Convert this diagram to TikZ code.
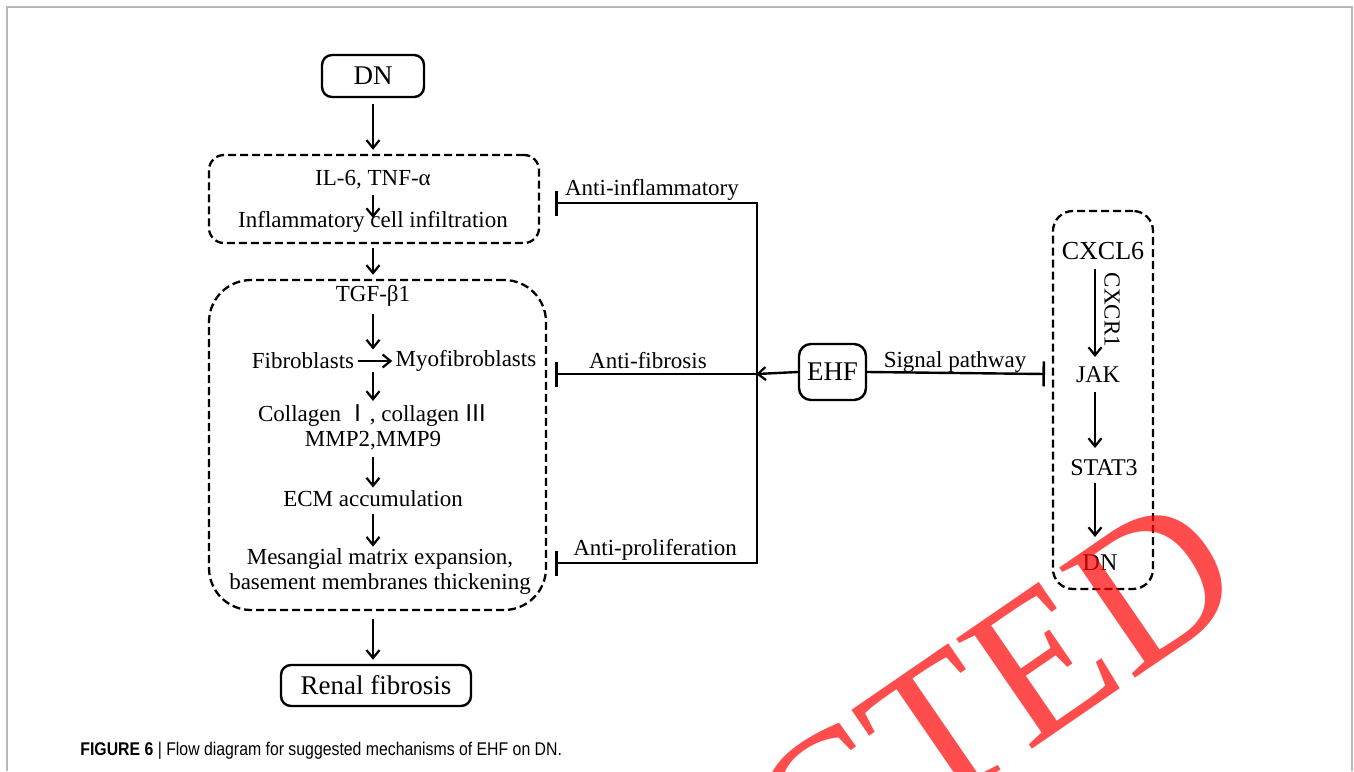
\documentclass[tikz,border=0pt]{standalone}
\usepackage{fontspec}
\setmainfont{Liberation Serif}
\newfontfamily\capfont{Liberation Sans}
\newfontfamily\cjkfont{Noto Sans CJK SC}
\usetikzlibrary{arrows.meta}
\tikzset{
  solidbox/.style={draw, line width=1.2pt, rounded corners=5pt, inner sep=0pt},
  dashbox/.style={draw, line width=1.15pt, dash pattern=on 4pt off 2pt, inner sep=0pt},
  lbl/.style={inner sep=0.5pt, font=\fontsize{11.5pt}{12.5pt}\selectfont},
  big/.style={inner sep=0.5pt, font=\fontsize{13.5pt}{15pt}\selectfont},
  rlbl/.style={inner sep=0.5pt, font=\fontsize{12pt}{14pt}\selectfont},
  arr/.style={line width=1.2pt, -{Straight Barb[length=4pt,width=6.5pt,line width=1.1pt]}},
  inhib/.style={line width=1.2pt, -{Bar[width=12.5pt,line width=1.3pt]}},
  plainline/.style={line width=1.2pt},
}
\begin{document}
\begin{tikzpicture}[x=0.5pt,y=-0.5pt]
\useasboundingbox (0,0) rectangle (1354,771);
% frame
\draw[gray!55, line width=0.7pt] (7,771) -- (7,7) -- (1352,7) -- (1352,771);

% boxes
\node[solidbox, minimum width=51pt, minimum height=21pt, big] (dn) at (373,76) {DN};
\node[dashbox, rounded corners=7.5pt, minimum width=165pt, minimum height=44pt] (box1) at (374,199) {};
\node[dashbox, rounded corners=21pt, minimum width=168.5pt, minimum height=165pt] (box2) at (377.5,445) {};
\node[solidbox, minimum width=95pt, minimum height=20.5pt, big] (renal) at (376,685.5) {Renal fibrosis};
\node[solidbox, rounded corners=6pt, minimum width=33.5pt, minimum height=28pt, big] (ehf) at (832.5,372) {EHF};
\node[dashbox, rounded corners=10pt, minimum width=50pt, minimum height=189pt] (box3) at (1103,400) {};

% box1 content
\node[lbl] (il6) at (373,180) {IL-6, TNF-α};
\node[lbl] (infl) at (373,222) {Inflammatory cell infiltration};
% box2 content
\node[lbl] (tgf) at (373,296) {TGF-β1};
\node[lbl] (fib) at (303,361) {Fibroblasts};
\node[lbl] (myo) at (466,361) {Myofibroblasts};
\node[lbl, align=center] (coll) at (373,427) {Collagen {\cjkfont Ⅰ}, collagen {\cjkfont Ⅲ}\\MMP2,MMP9};
\node[lbl] (ecm) at (373,499) {ECM accumulation};
\node[lbl, align=center] (mes) at (380,571) {Mesangial matrix expansion,\\basement membranes thickening};

% right box content
\node[rlbl, font=\fontsize{13pt}{14pt}\selectfont] (cxcl) at (1103,251) {CXCL6};
\node[rlbl] (jak) at (1098,375) {JAK};
\node[rlbl] (stat) at (1104,468) {STAT3};
\node[rlbl] (dn2) at (1100,563) {DN};

% main vertical flow
\draw[arr, shorten <=3pt, shorten >=2pt] (dn.south) -- (box1.north -| dn.south);
\draw[arr, shorten <=2pt, shorten >=-4pt] (il6.south) -- (infl.north);
\draw[arr, shorten <=2pt, shorten >=2pt] (box1.south -| dn.south) -- (box2.north -| dn.south);
\draw[arr, shorten <=3pt, shorten >=1pt] (tgf.south) -- (tgf.south |- fib.north);
\draw[arr, shorten <=1pt, shorten >=1pt] (fib.east) -- (myo.west);
\draw[arr, shorten <=1pt, shorten >=1pt] (tgf.south |- fib.south) -- (tgf.south |- coll.north);
\draw[arr, shorten <=3pt, shorten >=1pt] (tgf.south |- coll.south) -- (tgf.south |- ecm.north);
\draw[arr, shorten <=3pt, shorten >=0pt] (tgf.south |- ecm.south) -- (tgf.south |- mes.north);
\draw[arr, shorten <=4pt, shorten >=2pt] (box2.south -| dn.south) -- (renal.north -| dn.south);

% EHF side
\coordinate (jt) at (757,203);
\coordinate (jm) at (757,374);
\coordinate (jb) at (757,563);
\coordinate (b1) at (555,203);
\coordinate (b2) at (555,374);
\coordinate (b3) at (555,563);
\coordinate (bs) at (1045,374);
\draw[plainline, line cap=rect] (jt) -- (jb);
\draw[inhib] (jt) -- (b1);
\draw[inhib] (jm) -- (b2);
\draw[inhib] (jb) -- (b3);
\node[lbl] (lai) at (652,190) {Anti-inflammatory};
\node[lbl] (laf) at (648,361) {Anti-fibrosis};
\node[lbl] (lap) at (655,550) {Anti-proliferation};
\draw[arr, shorten >=-0.5pt] (ehf.west) -- (jm);
\draw[inhib] (ehf.east) -- (bs);
\node[lbl] (lsp) at (955,362) {Signal pathway};

% right pathway
\draw[arr] (1095,269) coordinate (c1) -- (1095,357) coordinate (c2);
\node[lbl, rotate=-90] (cxcr) at (1112,310) {CXCR1};
\draw[arr] (1095,392) -- (1095,448);
\draw[arr] (1095,483) -- (1095,537);

% caption
\node[anchor=west, inner sep=0pt, font=\capfont\fontsize{9.2pt}{11pt}\selectfont] (cap) at (80,751)
  {\scalebox{0.86}[1]{\textbf{FIGURE 6} | Flow diagram for suggested mechanisms of EHF on DN.}};

% stamp
\begin{scope}
\clip (0,0) rectangle (1354,771);
\node[rotate=34.5, anchor=base east, inner sep=0pt, text=red, text opacity=0.7,
  font=\fontsize{102pt}{102pt}\selectfont] (stamp) at (1252,598) {RETRACTED};
\end{scope}
\end{tikzpicture}
\end{document}
